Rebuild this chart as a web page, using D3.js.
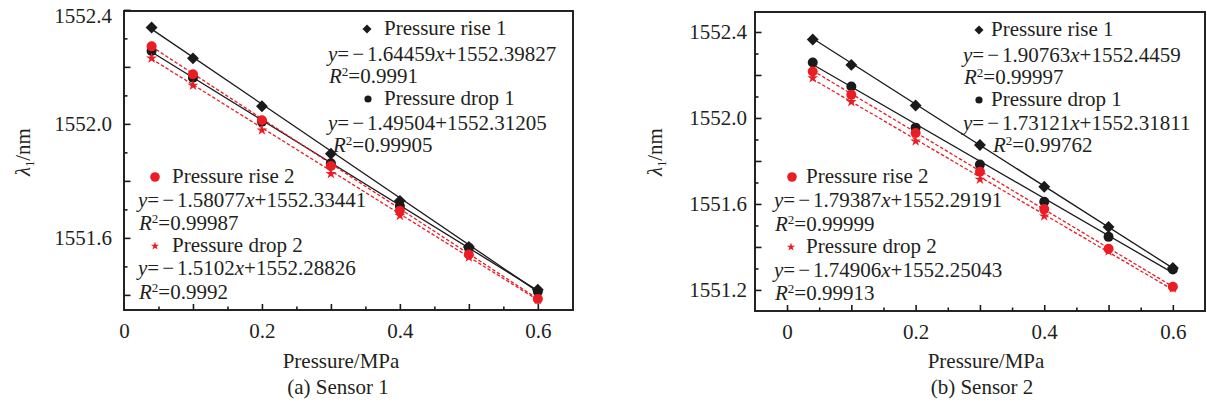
<!DOCTYPE html>
<html>
<head>
<meta charset="utf-8">
<script src="https://cdn.jsdelivr.net/npm/d3@7"></script>
<style>
  html, body { margin: 0; padding: 0; background: #fff; }
  svg { display: block; }
  text { font-family: "Liberation Serif", "Times New Roman", serif; fill: #231f20; }
</style>
</head>
<body>
<svg id="chart" width="1207" height="404"></svg>
<script>
// ---------------- data ----------------
const pressure = [0.04, 0.1, 0.2, 0.3, 0.4, 0.5, 0.6];
const seriesNames = ["Pressure rise 1", "Pressure drop 1", "Pressure rise 2", "Pressure drop 2"];

// Sensor 1 (λ1 / nm)
const s1Rise1 = [1552.338, 1552.230, 1552.062, 1551.895, 1551.730, 1551.568, 1551.418];
const s1Drop1 = [1552.256, 1552.162, 1552.008, 1551.862, 1551.712, 1551.565, 1551.412];
const s1Rise2 = [1552.272, 1552.174, 1552.013, 1551.852, 1551.695, 1551.542, 1551.386];
const s1Drop2 = [1552.230, 1552.135, 1551.978, 1551.825, 1551.678, 1551.532, 1551.383];
const s1Slopes = [-1.64459, -1.49504, -1.58077, -1.5102];
const s1Intercepts = [1552.39827, 1552.31205, 1552.33441, 1552.28826];
const s1R2 = ["0.9991", "0.99905", "0.99987", "0.9992"];
const s1EqHasX = [true, false, true, true];

// Sensor 2 (λ1 / nm)
const s2Rise1 = [1552.365, 1552.247, 1552.058, 1551.874, 1551.680, 1551.493, 1551.302];
const s2Drop1 = [1552.258, 1552.146, 1551.955, 1551.783, 1551.610, 1551.447, 1551.295];
const s2Rise2 = [1552.216, 1552.108, 1551.930, 1551.750, 1551.576, 1551.392, 1551.215];
const s2Drop2 = [1552.186, 1552.075, 1551.892, 1551.714, 1551.543, 1551.380, 1551.208];
const s2Slopes = [-1.90763, -1.73121, -1.79387, -1.74906];
const s2Intercepts = [1552.4459, 1552.31811, 1552.29191, 1552.25043];
const s2R2 = ["0.99997", "0.99762", "0.99999", "0.99913"];
const s2EqHasX = [true, true, true, true];

// tick labels
const xTickLabels = [0, 0.2, 0.4, 0.6];
const s1YTickLabels = [1551.6, 1552.0, 1552.4];
const s2YTickLabels = [1551.2, 1551.6, 1552.0, 1552.4];

// ---------------- styles ----------------
const RED = "#ea1d25";
const BLACK = "#1a1a1a";
const seriesStyle = [
  { color: BLACK, marker: "diamond", dash: null },
  { color: BLACK, marker: "circle",  dash: null },
  { color: RED,   marker: "circle",  dash: "3.5,2" },
  { color: RED,   marker: "star",    dash: "3.5,2" }
];

const panels = [
  {
    caption: "(a) Sensor 1",
    series: [s1Rise1, s1Drop1, s1Rise2, s1Drop2],
    slopes: s1Slopes, intercepts: s1Intercepts, r2: s1R2, hasX: s1EqHasX,
    yLabels: s1YTickLabels,
    left: 124, right: 573, top: 11, bottom: 310,
    xDomain: [0, 0.651], yDomain: [1551.347, 1552.396],
    xMinorRange: [1, 12], yTickRange: [14, 24],
    yLabelPad: 12, yTitleX: 23, xTitleX: 341, captionX: 338,
    legend: [
      { mx: 367, my: 29,  tx: 384, nb: 35,  ex: 328, eb: 61,  rx: 329, rb: 83 },
      { mx: 368, my: 99,  tx: 384, nb: 105, ex: 328, eb: 130, rx: 333, rb: 152 },
      { mx: 155, my: 177, tx: 172, nb: 183, ex: 138, eb: 207, rx: 139, rb: 230 },
      { mx: 155, my: 246, tx: 172, nb: 252, ex: 138, eb: 275, rx: 139, rb: 299 }
    ]
  },
  {
    caption: "(b) Sensor 2",
    series: [s2Rise1, s2Drop1, s2Rise2, s2Drop2],
    slopes: s2Slopes, intercepts: s2Intercepts, r2: s2R2, hasX: s2EqHasX,
    yLabels: s2YTickLabels,
    left: 755, right: 1205, top: 12, bottom: 311,
    xDomain: [-0.0498, 0.650], yDomain: [1551.102, 1552.493],
    xMinorRange: [0, 12], yTickRange: [12, 24],
    yLabelPad: 8, yTitleX: 655, xTitleX: 986, captionX: 982,
    legend: [
      { mx: 979, my: 30,  tx: 991, nb: 36,  ex: 963, eb: 62,  rx: 964, rb: 84 },
      { mx: 979, my: 100, tx: 991, nb: 106, ex: 963, eb: 130, rx: 993, rb: 152 },
      { mx: 792, my: 177, tx: 806, nb: 183, ex: 774, eb: 207, rx: 775, rb: 231 },
      { mx: 791, my: 247, tx: 806, nb: 253, ex: 774, eb: 277, rx: 775, rb: 300 }
    ]
  }
];

const svg = d3.select("#chart");
const FS = 21;

function drawMarker(g, type, cx, cy, color, legend) {
  if (type === "diamond") {
    const s = legend ? 6.4 : 8.4;
    g.append("rect").attr("x", cx - s / 2).attr("y", cy - s / 2)
      .attr("width", s).attr("height", s).attr("fill", color)
      .attr("transform", `rotate(45,${cx},${cy})`);
  } else if (type === "circle") {
    const r = legend ? (color === RED ? 4.8 : 3.6) : 5;
    g.append("circle").attr("cx", cx).attr("cy", cy).attr("r", r).attr("fill", color);
  } else {
    g.append("path").attr("d", d3.symbol(d3.symbolStar, legend ? 22 : 36)())
      .attr("transform", `translate(${cx},${cy})`).attr("fill", color);
  }
}

panels.forEach(p => {
  const x = d3.scaleLinear().domain(p.xDomain).range([p.left, p.right]);
  const y = d3.scaleLinear().domain(p.yDomain).range([p.bottom, p.top]);
  const g = svg.append("g");

  // ---- fit lines and points ----
  p.series.forEach((vals, i) => {
    const st = seriesStyle[i];
    const x0 = pressure[0], x1 = pressure[pressure.length - 1];
    const line = d3.line().x(d => x(d[0])).y(d => y(d[1]));
    g.append("path")
      .attr("d", line([[x0, p.slopes[i] * x0 + p.intercepts[i]], [x1, p.slopes[i] * x1 + p.intercepts[i]]]))
      .attr("fill", "none").attr("stroke", st.color).attr("stroke-width", 1.3)
      .attr("stroke-dasharray", st.dash);
  });
  p.series.forEach((vals, i) => {
    const st = seriesStyle[i];
    vals.forEach((v, k) => drawMarker(g, st.marker, x(pressure[k]), y(v), st.color, false));
  });

  // ---- axes (inward ticks) ----
  const xAll = d3.range(p.xMinorRange[0], p.xMinorRange[1] + 1);
  const xAxisG = g.append("g").attr("transform", `translate(0,${p.bottom})`);
  xAxisG.append("g").call(d3.axisBottom(x).tickValues(xAll.filter(i => i % 2 === 0).map(i => i * 0.05)).tickSize(-6).tickFormat(""));
  xAxisG.append("g").call(d3.axisBottom(x).tickValues(xAll.filter(i => i % 2 === 1).map(i => i * 0.05)).tickSize(-3.5).tickFormat(""));
  xAxisG.append("g").call(d3.axisBottom(x).tickValues(xTickLabels).tickSize(0).tickPadding(13)
    .tickFormat(d => d === 0 ? "0" : d.toFixed(1)));

  const yAll = d3.range(p.yTickRange[0], p.yTickRange[1] + 1).map(i => 1550 + i / 10);
  const yAxisG = g.append("g").attr("transform", `translate(${p.left},0)`);
  yAxisG.append("g").call(d3.axisLeft(y).tickValues(yAll.filter(v => Math.round(v * 10) % 2 === 0)).tickSize(-6.5).tickFormat(""));
  yAxisG.append("g").call(d3.axisLeft(y).tickValues(yAll.filter(v => Math.round(v * 10) % 2 === 1)).tickSize(-3.5).tickFormat(""));
  const yl = yAxisG.append("g").call(d3.axisLeft(y).tickValues(p.yLabels).tickSize(0).tickPadding(p.yLabelPad)
    .tickFormat(d => d.toFixed(1)));
  // keep top label inside the picture
  yl.selectAll(".tick").each(function(d) {
    if (y(d) < 16) d3.select(this).select("text").attr("y", 16 - y(d));
  });

  g.selectAll(".domain").remove();
  g.selectAll(".tick line").attr("stroke", BLACK).attr("stroke-width", 1.6);
  g.selectAll(".tick text").style("font-size", FS + "px").style("font-family", '"Liberation Serif", serif').attr("fill", "#231f20");

  // ---- frame ----
  g.append("rect").attr("x", p.left).attr("y", p.top)
    .attr("width", p.right - p.left).attr("height", p.bottom - p.top)
    .attr("fill", "none").attr("stroke", BLACK).attr("stroke-width", 1.9);

  // ---- axis titles ----
  g.append("text").attr("x", p.xTitleX).attr("y", 368).attr("text-anchor", "middle")
    .style("font-size", FS + "px").text("Pressure/MPa");
  g.append("text").attr("x", p.captionX).attr("y", 394).attr("text-anchor", "middle")
    .style("font-size", FS + "px").text(p.caption);
  const yt = g.append("text").attr("transform", `translate(${p.yTitleX + 7},152) rotate(-90)`)
    .attr("text-anchor", "middle").style("font-size", FS + "px");
  yt.append("tspan").attr("font-style", "italic").text("λ");
  yt.append("tspan").attr("dy", 4).style("font-size", "12px").text("1");
  yt.append("tspan").attr("dy", -4).text("/nm");

  // ---- legend / equations ----
  p.legend.forEach((L, i) => {
    const st = seriesStyle[i];
    drawMarker(g, st.marker, L.mx, L.my, st.color, true);
    g.append("text").attr("x", L.tx).attr("y", L.nb).style("font-size", FS + "px").text(seriesNames[i]);

    const t = g.append("text").attr("x", L.ex).attr("y", L.eb).style("font-size", FS + "px");
    t.append("tspan").attr("font-style", "italic").text("y");
    t.append("tspan").text("=");
    t.append("tspan").attr("dx", 3).text("−");
    t.append("tspan").attr("dx", 3).text(String(Math.abs(p.slopes[i])));
    if (p.hasX[i]) t.append("tspan").attr("font-style", "italic").text("x");
    t.append("tspan").text("+" + String(p.intercepts[i]));

    const r = g.append("text").attr("x", L.rx).attr("y", L.rb).style("font-size", FS + "px");
    r.append("tspan").attr("font-style", "italic").text("R");
    r.append("tspan").attr("dy", -7).style("font-size", "13px").text("2");
    r.append("tspan").attr("dy", 7).text("=" + p.r2[i]);
  });
});
</script>
</body>
</html>
